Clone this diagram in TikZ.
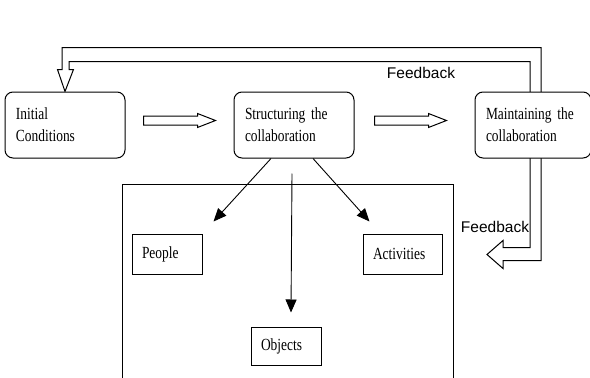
\documentclass[tikz,border=0pt]{standalone}
\usepackage{fontspec}
\setmainfont{Liberation Serif}[FakeStretch=0.79]
\newfontfamily\labelfont{Liberation Sans}
\usetikzlibrary{positioning,calc,backgrounds,arrows.meta}
\tikzstyle{stage} = [draw, fill=white, rounded corners=8pt, line width=1pt,
text width=98pt, align=left, minimum height=66pt, inner xsep=11pt,
font=\fontsize{17}{22}\selectfont]
\tikzstyle{item} = [draw, fill=white, line width=1pt, text width=50pt,
align=left, minimum height=40pt, inner xsep=10pt,
font=\fontsize{17}{20}\selectfont]
\tikzstyle{hollow} = [draw, fill=white, line width=1pt, line join=miter]
\tikzstyle{link} = [-{Triangle[length=13pt,width=11pt]}, line width=0.9pt]
\tikzstyle{fb} = [font=\labelfont\fontsize{15.5}{18}\selectfont, inner sep=0pt]

\begin{document}
\begin{tikzpicture}[
    x=1pt, y=-1pt, % pixel-like units, y going down
  ]
    \useasboundingbox (0,0) rectangle (590,378);

    \node[stage]                                   (init)   at (65,125) {Initial\\Conditions};
    \node[stage, right=108pt of init]              (struct)             {Structuring the\\collaboration};
    \node[stage, right=120pt of struct, text width=94pt] (maint)        {Maintaining the\\collaboration};

    % open frame round the three parts
    \draw[line width=1pt] (122,378) |- (453,184) -- (453,378);

    \node[item]                                    (people) at (167,254) {People};
    \node[item, right=160pt of people, text width=59pt] (acts)          {Activities};
    \node[item, minimum height=38pt]               (objs)   at (286,346) {Objects};

    \draw[link] ([xshift=-23pt]struct.south) -- ([shift={(11,-12)}]people.north east);
    \draw[link] ([shift={(-2,15)}]struct.south) -- ([shift={(5,-14)}]objs.north);
    \draw[link] ([xshift=19pt]struct.south)  -- ([shift={(7,-12)}]acts.north west);

    % block arrows between the stages
    \coordinate (a1) at ($(init.east)!0.5!(struct.west)$);
    \coordinate (a2) at ($(struct.east)!0.5!(maint.west)$);
    \foreach \a/\dx in {a1/-36, a2/-40}
      \draw[hollow] ([shift={(\dx,-9)}]\a) -- ++(54,0) -- ++(0,-2.5) -- ++(18,7)
        -- ++(-18,7) -- ++(0,-2.5) -- ++(-54,0) -- cycle;

    % feedback loop, behind the boxes
    \begin{scope}[on background layer]
      \draw[hollow] (init.north) -- ++(8.5,-22) -- ++(-4.5,0) -- ++(0,-8) -- ++(461,0)
        -- ++(0,186) -- ++(-27,0) -- ++(0,-7) -- ++(-16,14) -- ++(16,14) -- ++(0,-8)
        -- ++(38,0) -- ++(0,-213) -- ++(-479,0) -- ++(0,22) -- ++(-4.5,0) -- cycle;
    \end{scope}

    \node[fb] (fbtop)  at (421,73)  {Feedback};
    \node[fb] (fbside) at (495,227) {Feedback};
  \end{tikzpicture}
\end{document}
